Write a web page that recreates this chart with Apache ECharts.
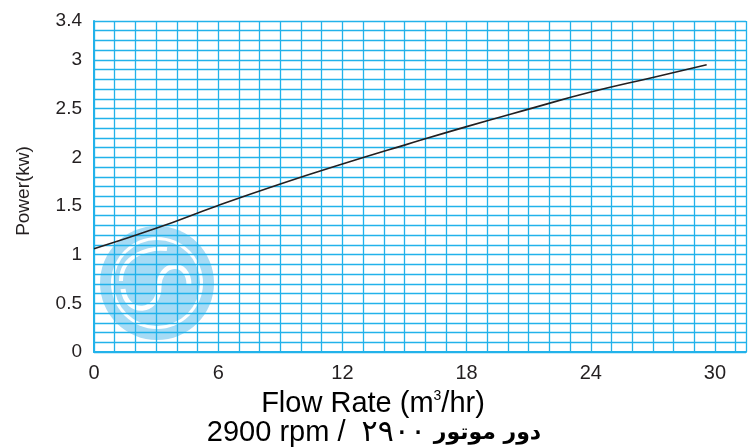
<!DOCTYPE html>
<html>
<head>
<meta charset="utf-8">
<script src="https://cdn.jsdelivr.net/npm/echarts@6/dist/echarts.min.js"></script>
<style>
html,body{margin:0;padding:0;background:#fff;}
#chart{width:749px;height:447px;}
</style>
</head>
<body>
<div id="chart"></div>
<script>
// Data
const flowRate = [0, 3, 6, 9, 12, 15, 18, 21, 24, 27, 29.6];
const power    = [1.06, 1.27, 1.505, 1.725, 1.93, 2.125, 2.315, 2.495, 2.67, 2.82, 2.95];
const xTickLabels = [0, 6, 12, 18, 24, 30];
const yTickLabels = [0, 0.5, 1, 1.5, 2, 2.5, 3, 3.4];
const xAxisTitle = 'Flow Rate (m';
const xAxisTitleSup = '3';
const xAxisTitleEnd = '/hr)';
const speedLatin = '2900 rpm /  ';
const speedPersianDigits = '۲۹۰۰';
const speedPersianWords = ' دور موتور';
const yAxisTitle = 'Power(kw)';

const chart = echarts.init(document.getElementById('chart'), null, {renderer: 'canvas'});
const FONT = '"Liberation Sans", Arial, Helvetica, sans-serif';
const TXT = '#231f20';
const GRIDC = '#22b2ea';

function near(list, v) { return list.some(t => Math.abs(t - v) < 1e-6); }

const cx = 157, cy = 283;
const logoC = '#a6dbf5';

function bez(x1, y1, c1x, c1y, c2x, c2y, x2, y2, w) {
  return {type: 'bezierCurve', z: -7,
    shape: {x1: cx + x1, y1: cy + y1, cpx1: cx + c1x, cpy1: cy + c1y, cpx2: cx + c2x, cpy2: cy + c2y, x2: cx + x2, y2: cy + y2},
    style: {stroke: '#fff', lineWidth: w, fill: null}};
}

chart.setOption({
  animation: false,
  grid: {left: 94, top: 21, bottom: 95, width: 657},
  xAxis: {
    type: 'value', min: 0, max: 31.5, interval: 1,
    axisLine: {show: true, lineStyle: {color: GRIDC, width: 2}},
    axisTick: {show: false},
    axisLabel: {
      margin: 11, color: TXT, fontSize: 20, fontFamily: FONT,
      formatter: v => near(xTickLabels, v) ? String(Math.round(v)) : ''
    },
    splitLine: {show: true, lineStyle: {color: GRIDC, width: 1.3}}
  },
  yAxis: {
    type: 'value', min: 0, max: 3.4, interval: 0.1,
    axisLine: {show: true, lineStyle: {color: GRIDC, width: 2}},
    axisTick: {show: false},
    axisLabel: {
      margin: 12, color: TXT, fontSize: 19, fontFamily: FONT,
      formatter: v => near(yTickLabels, v) ? String(Math.round(v * 10) / 10) : ''
    },
    splitLine: {show: true, lineStyle: {color: GRIDC, width: 1.3}}
  },
  graphic: [
    {type: 'circle', z: -10, shape: {cx: cx, cy: cy, r: 57}, style: {fill: logoC}},
    {type: 'circle', z: -9, shape: {cx: cx, cy: cy, r: 46}, style: {fill: '#fff'}},
    {type: 'circle', z: -8, shape: {cx: cx, cy: cy, r: 43}, style: {fill: logoC}},
    bez(-34, 6, -30, 34, 2, 30, 2, 4, 5),
    bez(2, 4, 2, -22, 32, -24, 32, 2, 5),
    bez(-36, -2, -36, -28, -8, -36, 10, -34, 4),
    {type: 'text', x: 24, y: 191, rotation: Math.PI / 2,
      style: {text: yAxisTitle, fill: TXT, font: '19px ' + FONT, align: 'center', verticalAlign: 'middle'}},
    {type: 'text', x: 373, y: 404,
      style: {
        text: '{a|' + xAxisTitle + '}{s|' + xAxisTitleSup + '}{a|' + xAxisTitleEnd + '}',
        align: 'center', verticalAlign: 'middle',
        rich: {
          a: {fontSize: 29, fontFamily: FONT, color: TXT},
          s: {fontSize: 14, fontFamily: FONT, color: TXT, verticalAlign: 'top', padding: [0, 0, 12, 0]}
        }
      }},
    {type: 'text', x: 374, y: 433,
      style: {
        text: '{a|' + speedLatin + '}{d|' + speedPersianDigits + '}{p|' + speedPersianWords + '}',
        align: 'center', verticalAlign: 'middle',
        rich: {
          a: {fontSize: 29, fontFamily: FONT, color: TXT},
          d: {fontSize: 30, fontFamily: '"DejaVu Sans", sans-serif', color: TXT},
          p: {fontSize: 22, fontFamily: '"DejaVu Sans", sans-serif', fontWeight: 'bold', color: TXT}
        }
      }}
  ],
  series: [{
    type: 'line', smooth: true, showSymbol: false, z: 5,
    data: flowRate.map((x, i) => [x, power[i]]),
    lineStyle: {color: '#231f20', width: 1.6}
  }]
});
</script>
</body>
</html>
